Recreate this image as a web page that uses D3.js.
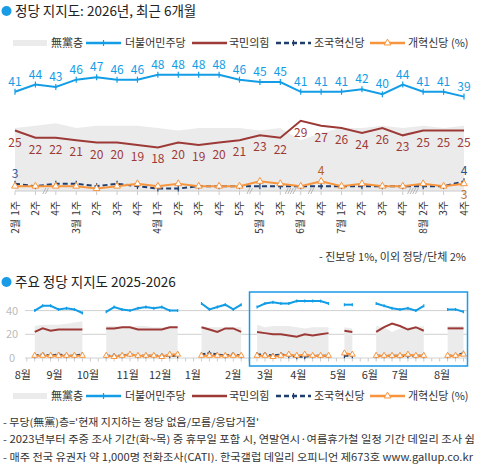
<!DOCTYPE html>
<html>
<head>
<meta charset="utf-8">
<script src="https://cdn.jsdelivr.net/npm/d3@7"></script>
<style>
body { margin: 0; background: #fff; }
text { font-family: "Noto Sans CJK KR", "Noto Sans", sans-serif; }
</style>
</head>
<body>
<script>
// ---- top chart: last 6 months (weekly) ----
var weekLabels = ["1주","2주","4주","1주","2주","3주","4주","1주","2주","3주","4주","5주","2주","3주","2주","4주","1주","2주","3주","4주","2주","3주","4주"];
var monthLabels = ["2월","","","3월","","","","4월","","","","","5월","","6월","","7월","","","","8월","",""];
var minjoo = [41,44,43,46,47,46,46,48,48,48,48,46,45,45,41,41,41,42,40,44,41,41,39];
var ppp = [25,22,22,21,20,20,19,18,20,19,20,21,23,22,29,27,26,24,26,23,25,25,25];
var cho = [3,2,3,3,2,3,2,1,1,2,2,2,2,2,2,2,2,2,2,2,2,2,4];
var reform = [2,2,2,2,1,2,3,2,3,2,2,2,4,3,2,4,2,3,2,2,3,2,3];
var nonpartisan = [26,27,28,26,27,27,27,26,25,26,26,26,25,26,21,24,26,26,27,26,27,26,27];
// skipped weeks drawn as // marks on the axis
var skipAfter = [1,11,13,14,19];
var skipCount = [1,1,2,1,2];

// ---- bottom chart: 2025-2026 (week index on a timeline) ----
var botWeeks = [1,2,3,4,5,6,7, 10,11,12,13,14,15,16,17,18,19, 22,23,24,25,26,27,
  29,30,31,32,33,34,35,36,37,38, 40,41, 44,45,46,47,48,49,50, 53,54,55];
var botMinjoo = [40,44,44,41,42,41,38, 39,43,41,40,42,43,42,43,40,40, 46,41,43,45,41,45,
  43,46,47,46,46,48,48,48,48,46, 45,45, 46,44,42,41,42,40,44, 41,41,39];
var botPpp = [22,25,23,24,24,24,24, 25,25,26,26,24,24,24,24,26,26, 26,24,22,25,25,22,
  22,21,20,20,19,18,20,19,20,21, 23,22, 22,26,29,27,24,26,23, 25,25,25];
var botCho = [2,3,2,3,2,2,3, 2,2,2,3,2,2,2,2,2,2, 3,4,3,2,3,2,
  3,3,2,3,2,1,1,2,2,2, 2,2, 2,2,2,2,2,2,2, 2,2,4];
var botReform = [2,2,2,2,2,2,2, 2,1,2,3,2,2,2,1,3,3, 2,2,2,2,2,2,
  2,2,1,2,3,2,3,2,2,2, 4,3, 2,2,2,2,3,2,2, 2,2,3];
var botNone = [27,28,28,28,29,30,31, 27,27,26,26,27,27,26,26,26,26, 26,26,26,26,26,26,
  28,26,27,27,27,26,25,26,26,26, 26,25, 27,26,22,25,26,26,27, 27,27,27];
var botMonths = ["8월","9월","10월","11월","12월","1월","2월","3월","4월","5월","6월","7월","8월"];
var botMonthAt = [-0.5,3.5,7.7,12.7,16.8,20.9,26,30,34.2,39.2,43.2,47,52.3];
var botYTicks = [0,20,40];

var C = {blue: "#129de6", red: "#9c3a37", navy: "#1f3e6e", orange: "#f7953f", gray: "#ebebeb"};

var svg = d3.select("body").append("svg")
    .attr("width", 484)
    .attr("height", 476);

function title(y, txt) {
  svg.append("circle").attr("cx", 6.5).attr("cy", y).attr("r", 5).attr("fill", "#1a9be6");
  svg.append("text").attr("x", 15).attr("y", y).attr("dy", "0.36em")
    .attr("font-size", 13.5).attr("fill", "#222").text(txt);
}

function marker(g, type, x, y, color, s) {
  if (type == "plus") {
    g.append("path").attr("d", "M" + x + "," + (y - s) + "V" + (y + s))
      .attr("stroke", color).attr("stroke-width", 1.2);
  } else if (type == "tri") {
    g.append("path").attr("d", d3.symbol(d3.symbolTriangle, s * s * 2.2)())
      .attr("transform", "translate(" + x + "," + y + ")")
      .attr("fill", "#fff").attr("stroke", color).attr("stroke-width", 1);
  }
}

function legend(y) {
  var g = svg.append("g").attr("font-size", 11);
  g.append("rect").attr("x", 13).attr("y", y - 3).attr("width", 34).attr("height", 6).attr("fill", C.gray);
  var items = [
    {x: 51, t: "無黨층"},
    {x: 86, line: C.blue, m: "plus", t: "더불어민주당", tx: 125},
    {x: 192, line: C.red, t: "국민의힘", tx: 229},
    {x: 276, line: C.navy, dash: true, m: "plus", t: "조국혁신당", tx: 314},
    {x: 370, line: C.orange, m: "tri", t: "개혁신당 (%)", tx: 408}
  ];
  items.forEach(function(d) {
    if (d.line) {
      g.append("line").attr("x1", d.x).attr("x2", d.x + 35).attr("y1", y).attr("y2", y)
        .attr("stroke", d.line).attr("stroke-width", 2.5)
        .attr("stroke-dasharray", d.dash ? "5,3" : null);
      if (d.m) marker(g, d.m, d.x + 17.5, y, d.line, 3);
    }
    g.append("text").attr("x", d.tx || d.x).attr("y", y).attr("dy", "0.36em")
      .attr("fill", "#333").text(d.t);
  });
}

// ================= TOP CHART =================
title(11, "정당 지지도: 2026년, 최근 6개월");
legend(43);

var x = d3.scalePoint().domain(d3.range(minjoo.length)).range([15, 464]);
var y = d3.scaleLinear().domain([0, 50]).range([191, 70]);

var topG = svg.append("g");

topG.append("path")
  .attr("d", d3.area().x(function(d, i) { return x(i); }).y0(y(0)).y1(function(d) { return y(d); })(nonpartisan))
  .attr("fill", C.gray);

// axis baseline + ticks
topG.append("line").attr("x1", x(0)).attr("x2", x(minjoo.length - 1))
  .attr("y1", y(0)).attr("y2", y(0)).attr("stroke", "#ccc");
topG.selectAll(".tk").data(weekLabels).enter().append("line")
  .attr("x1", function(d, i) { return x(i); }).attr("x2", function(d, i) { return x(i); })
  .attr("y1", y(0)).attr("y2", y(0) + 4).attr("stroke", "#ccc");

// skipped-week marks
skipAfter.forEach(function(a, j) {
  var mid = (x(a) + x(a + 1)) / 2;
  var n = skipCount[j] * 2;
  for (var k = 0; k < n; k++) {
    var cx = mid + (k - (n - 1) / 2) * 2.6;
    topG.append("line").attr("x1", cx - 1.5).attr("x2", cx + 1.5)
      .attr("y1", y(0) + 3).attr("y2", y(0) - 3).attr("stroke", "#aaa").attr("stroke-width", 0.8);
  }
});

function topLine(vals, color, dash, mk) {
  topG.append("path")
    .attr("d", d3.line().x(function(d, i) { return x(i); }).y(function(d) { return y(d); })(vals))
    .attr("fill", "none").attr("stroke", color).attr("stroke-width", 2)
    .attr("stroke-dasharray", dash ? "5,3" : null);
  if (mk) vals.forEach(function(v, i) { marker(topG, mk, x(i), y(v), color, 3); });
}
topLine(cho, C.navy, true, "plus");
topLine(reform, C.orange, false, "tri");
topLine(ppp, C.red, false, null);
topLine(minjoo, C.blue, false, "plus");

// value labels
topG.selectAll(".lb").data(minjoo).enter().append("text")
  .attr("x", function(d, i) { return x(i); }).attr("y", function(d) { return y(d) - 6; })
  .attr("text-anchor", "middle").attr("font-size", 12).attr("fill", C.blue)
  .text(function(d) { return d; });
topG.selectAll(".lr").data(ppp).enter().append("text")
  .attr("x", function(d, i) { return x(i); }).attr("y", function(d) { return y(d) + 16; })
  .attr("text-anchor", "middle").attr("font-size", 12).attr("fill", C.red)
  .text(function(d) { return d; });
var last = minjoo.length - 1;
[
  {i: 0, v: cho[0], c: "#2e5f9f", dy: -6},
  {i: last, v: cho[last], c: "#24508c", dy: -6},
  {i: 15, v: reform[15], c: "#b4621c", dy: -6},
  {i: last, v: reform[last], c: "#c07030", dy: 15}
].forEach(function(d) {
  topG.append("text").attr("x", x(d.i)).attr("y", y(d.v) + d.dy)
    .attr("text-anchor", "middle").attr("font-size", 12).attr("fill", d.c).text(d.v);
});

// rotated week / month labels
weekLabels.forEach(function(t, i) {
  topG.append("text").attr("transform", "translate(" + x(i) + ",201) rotate(-90)")
    .attr("text-anchor", "end").attr("dy", "0.35em").attr("font-size", 10)
    .attr("fill", "#333").text(t);
  if (monthLabels[i]) {
    topG.append("text").attr("transform", "translate(" + x(i) + ",219) rotate(-90)")
      .attr("text-anchor", "end").attr("dy", "0.35em").attr("font-size", 10)
      .attr("fill", "#333").text(monthLabels[i]);
  }
});

svg.append("text").attr("x", 466).attr("y", 257).attr("dy", "0.36em")
  .attr("text-anchor", "end").attr("font-size", 11).attr("fill", "#333")
  .text("- 진보당 1%, 이외 정당/단체 2%");

// ================= BOTTOM CHART =================
title(282, "주요 정당 지지도 2025-2026");

var xb = d3.scaleLinear().domain([0, 55]).range([26.8, 463.5]);
var yb = d3.scaleLinear().domain([0, 40]).range([358, 310.6]);
var botG = svg.append("g");

botYTicks.forEach(function(t) {
  botG.append("line").attr("x1", 25).attr("x2", 467).attr("y1", yb(t)).attr("y2", yb(t))
    .attr("stroke", "#d0d0d0");
  botG.append("text").attr("x", 12).attr("y", yb(t)).attr("dy", "0.36em")
    .attr("text-anchor", "middle").attr("font-size", 11).attr("fill", "#bbb").text(t);
});
d3.range(0, 56).forEach(function(k) {
  botG.append("line").attr("x1", xb(k)).attr("x2", xb(k)).attr("y1", yb(0)).attr("y2", yb(0) + 3.5)
    .attr("stroke", "#ccc");
});

// split into continuous segments
var segs = [], cur = [];
botWeeks.forEach(function(w, j) {
  if (j > 0 && w - botWeeks[j - 1] > 1) { segs.push(cur); cur = []; }
  cur.push(j);
});
segs.push(cur);

var bx = function(j) { return xb(botWeeks[j]); };
segs.forEach(function(s) {
  botG.append("path")
    .attr("d", d3.area().x(bx).y0(yb(0)).y1(function(j) { return yb(botNone[j]); })(s))
    .attr("fill", C.gray);
});
function botLine(vals, color, dash, mk, sz) {
  segs.forEach(function(s) {
    botG.append("path")
      .attr("d", d3.line().x(bx).y(function(j) { return yb(vals[j]); })(s))
      .attr("fill", "none").attr("stroke", color).attr("stroke-width", 2)
      .attr("stroke-dasharray", dash ? "4,2" : null);
    if (mk) s.forEach(function(j) { marker(botG, mk, bx(j), yb(vals[j]), color, sz); });
  });
}
botLine(botCho, C.navy, true, "plus", 2.5);
botLine(botReform, C.orange, false, "tri", 2.6);
botLine(botPpp, C.red, false, null);
botLine(botMinjoo, C.blue, false, "plus", 1.5);

botMonths.forEach(function(m, i) {
  botG.append("text").attr("x", xb(botMonthAt[i])).attr("y", 375).attr("dy", "0.36em")
    .attr("text-anchor", "middle").attr("font-size", 11).attr("fill", "#333").text(m);
});

// highlighted recent 6 months
svg.append("rect").attr("x", 249.5).attr("y", 292).attr("width", 218).attr("height", 74)
  .attr("fill", "none").attr("stroke", "#1a9be6").attr("stroke-width", 1.5);

legend(396);

var notes = [
  "- 무당(無黨)층='현재 지지하는 정당 없음/모름/응답거절'",
  "- 2023년부터 주중 조사 기간(화~목) 중 휴무일 포함 시, 연말연시·여름휴가철 일정 기간 데일리 조사 쉼",
  "- 매주 전국 유권자 약 1,000명 전화조사(CATI). 한국갤럽 데일리 오피니언 제673호 www.gallup.co.kr"
];
var noteW = [256, 472, 470];
notes.forEach(function(t, i) {
  svg.append("text").attr("x", 3).attr("y", 422 + i * 17.5).attr("dy", "0.36em")
    .attr("font-size", 10).attr("fill", "#333")
    .attr("textLength", noteW[i]).attr("lengthAdjust", "spacingAndGlyphs")
    .text(t);
});
</script>
</body>
</html>
